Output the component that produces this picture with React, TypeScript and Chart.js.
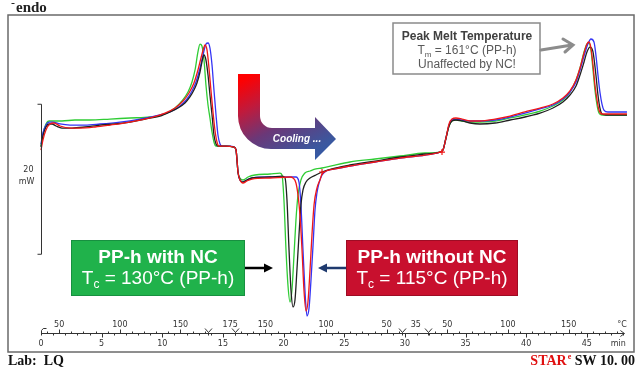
import { useEffect, useRef } from 'react';
import { Chart, registerables } from 'chart.js';
Chart.register(...registerables);

// ---- DSC curves: time (min) vs heat flow (mW, endo up) ----
const timeGreen = [0,0.16,0.41,0.66,1.07,1.73,2.8,4.04,5.69,7.34,8.99,10.22,11.05,11.62,12.12,12.45,12.7,12.94,13.11,13.27,13.44,13.6,13.77,13.93,14.1,14.26,14.43,15.25,15.91,16.08,16.16,16.24,16.41,16.65,17.07,17.64,18.88,19.7,19.87,20.03,20.2,20.36,20.53,20.69,20.86,21.02,21.19,21.43,21.76,22.18,22.67,23.17,24.24,25.47,27.54,29.6,31.66,32.89,33.14,33.39,33.64,33.88,34.21,34.71,35.37,36.19,37.43,38.67,39.9,41.14,42.21,43.03,43.61,44.11,44.44,44.77,45.01,45.18,45.34,45.51,45.67,45.84,46.0,46.25,47.32,48.31];
const hfGreen = [-2.47,-0.87,0.47,0.87,0.87,0.87,1.0,1.0,1.13,1.27,1.4,1.8,2.6,3.53,4.73,6.07,7.67,10.07,11.13,10.87,9.0,5.67,3.0,1.27,-0.6,-1.93,-2.47,-2.47,-2.6,-3.0,-4.33,-5.93,-6.73,-7.0,-6.6,-6.33,-6.2,-6.07,-6.33,-9.67,-16.33,-21.0,-23.27,-21.67,-17.0,-12.33,-9.0,-7.0,-6.07,-5.8,-5.53,-5.4,-5.0,-4.6,-4.2,-3.8,-3.4,-3.27,-3.0,-1.4,0.2,0.87,1.0,0.87,0.73,0.73,0.87,1.27,1.67,2.2,2.87,3.67,4.73,6.33,7.93,10.07,11.13,11.27,10.33,7.67,5.0,3.0,1.93,1.67,1.67,1.67];

const timeBlack = [0,0.16,0.41,0.66,0.91,1.24,1.73,2.56,3.63,4.86,6.1,7.34,8.57,9.81,10.63,11.29,11.87,12.28,12.61,12.86,13.11,13.27,13.44,13.6,13.77,13.93,14.1,14.26,14.43,14.59,15.25,15.91,16.08,16.16,16.24,16.41,16.65,16.98,17.39,18.88,19.87,20.12,20.28,20.45,20.61,20.78,20.94,21.1,21.27,21.43,21.6,21.85,22.18,22.67,23.17,24.24,25.47,27.54,29.6,31.66,32.89,33.14,33.39,33.64,33.88,34.21,34.71,35.37,36.19,37.43,38.67,39.9,41.14,42.21,43.03,43.61,44.11,44.44,44.77,45.01,45.26,45.51,45.75,45.92,46.08,46.25,46.58,47.32,48.31];
const hfBlack = [-2.6,-1.13,0.07,0.47,0.47,0.2,-0.07,-0.07,0.07,0.33,0.47,0.73,1.13,1.53,2.07,2.6,3.27,4.07,5.0,5.93,7.4,8.73,9.67,9.0,7.0,4.33,1.67,-1.0,-2.2,-2.47,-2.47,-2.6,-3.0,-4.33,-5.93,-7.0,-7.27,-7.0,-6.73,-6.6,-6.47,-6.73,-9.67,-16.33,-21.67,-23.93,-23.0,-19.0,-14.33,-10.33,-8.33,-7.27,-6.73,-6.33,-5.93,-5.4,-5.0,-4.47,-3.93,-3.53,-3.27,-3.0,-1.4,0.2,0.87,1.0,0.87,0.6,0.47,0.6,1.0,1.4,1.93,2.6,3.4,4.33,5.53,7.0,8.73,10.07,10.73,10.07,7.0,4.33,2.6,1.8,1.67,1.67,1.67];

const timeRed = [0,0.16,0.41,0.74,1.07,1.57,2.39,3.22,4.45,5.69,7.34,8.99,10.22,11.05,11.71,12.2,12.61,12.94,13.19,13.44,13.52,13.69,13.85,14.01,14.18,14.34,14.51,14.67,15.25,15.91,16.08,16.16,16.24,16.41,16.65,16.98,17.39,18.88,20.53,20.78,21.02,21.19,21.35,21.52,21.68,21.85,22.01,22.18,22.34,22.51,22.75,23.0,23.17,23.5,24.24,25.47,27.54,29.6,31.66,32.89,33.14,33.39,33.64,33.88,34.21,34.71,35.37,36.19,37.43,38.67,39.9,41.14,42.21,43.03,43.61,44.11,44.44,44.77,45.01,45.18,45.34,45.51,45.67,45.84,46.0,46.25,47.32,48.31];
const hfRed = [-3.0,-1.67,-0.33,0.47,0.6,0.2,-0.07,-0.07,0.07,0.33,0.73,1.27,1.93,2.6,3.53,4.6,5.93,7.67,9.27,10.73,11.0,10.33,7.93,5.0,2.07,-0.33,-1.93,-2.47,-2.47,-2.6,-3.0,-4.33,-5.93,-7.0,-7.4,-7.13,-6.87,-6.73,-6.6,-6.73,-7.4,-9.0,-11.67,-16.33,-21.67,-24.47,-23.27,-19.0,-14.33,-10.33,-8.07,-7.0,-6.2,-5.8,-5.53,-5.13,-4.6,-4.07,-3.67,-3.27,-3.0,-1.4,0.47,1.13,1.27,1.13,0.87,0.87,1.13,1.53,2.07,2.6,3.13,3.93,4.87,6.33,7.93,9.93,11.13,11.4,10.6,8.33,5.67,3.67,2.33,1.8,1.8,1.8];

const timeBlue = [0,0.16,0.41,0.66,0.99,1.57,2.39,3.63,4.86,6.51,8.16,9.81,10.8,11.46,12.04,12.45,12.78,13.11,13.36,13.6,13.77,13.93,14.1,14.26,14.43,14.59,14.76,14.92,15.58,15.91,16.08,16.16,16.24,16.41,16.65,16.98,17.39,18.88,20.53,21.02,21.27,21.43,21.6,21.76,21.93,22.1,22.26,22.43,22.59,22.75,22.92,23.17,23.5,24.24,25.47,27.54,29.6,31.66,32.89,33.14,33.39,33.64,33.88,34.21,34.71,35.37,36.19,37.43,38.67,39.9,41.14,42.21,43.03,43.61,44.11,44.44,44.77,45.09,45.34,45.59,45.75,45.92,46.08,46.25,46.41,46.74,47.32,48.31];
const hfBlue = [-2.2,-0.73,0.33,0.73,0.73,0.47,0.33,0.33,0.47,0.73,1.13,1.67,2.2,2.87,3.8,4.87,6.07,7.93,9.67,11.13,11.27,10.6,8.33,5.0,1.67,-1.0,-2.2,-2.47,-2.47,-2.6,-3.0,-4.33,-5.93,-7.0,-7.27,-7.0,-6.73,-6.6,-6.6,-6.6,-7.27,-10.33,-16.33,-21.67,-25.13,-24.07,-20.33,-15.67,-11.0,-8.73,-7.4,-6.33,-5.8,-5.53,-5.13,-4.6,-4.07,-3.67,-3.27,-3.0,-1.4,0.33,1.0,1.13,1.0,0.87,0.87,1.0,1.4,1.93,2.47,3.0,3.8,4.73,6.07,7.67,9.53,11.13,11.8,11.4,9.67,7.0,4.73,3.13,2.33,2.07,2.07,2.07];

// evaluation marks on the red curve
const markTimes = [23.17, 33.06];
const markHF = [-5.93, -3.27];

// ---- axis / program ----
const timeTickLabels = [0, 5, 10, 15, 20, 25, 30, 35, 40, 45];
const programTimes = [0, 14, 16, 30, 32, 48.5];
const programTemps = [35, 175, 175, 35, 35, 200];
const isoLabels = ['175', '35'];
const isoLabelTimes = [15.6, 30.9];
const segmentMarks = [13.8, 16.0, 29.8, 31.9];
const axisEndTime = 48.1;
const scaleBarTop = 3.1;   // mW
const scaleBarSpan = 20;   // mW

const FONT = '"Liberation Sans", Arial, sans-serif';

type Part = { t: string; size: number; bold?: boolean; dy?: number; italic?: boolean };
function drawRich(ctx: CanvasRenderingContext2D, parts: Part[], cx: number, y: number, color: string) {
  const fontOf = (p: Part) => `${p.italic ? 'italic ' : ''}${p.bold ? 'bold ' : ''}${p.size}px ${FONT}`;
  let total = 0;
  const ws = parts.map((p) => { ctx.font = fontOf(p); const w = ctx.measureText(p.t).width; total += w; return w; });
  let x = cx - total / 2;
  ctx.fillStyle = color;
  ctx.textAlign = 'left';
  ctx.textBaseline = 'alphabetic';
  parts.forEach((p, i) => { ctx.font = fontOf(p); ctx.fillText(p.t, x, y + (p.dy || 0)); x += ws[i]; });
}

function arrow(ctx: CanvasRenderingContext2D, x1: number, y1: number, x2: number, y2: number, color: string, lw: number, head: number) {
  const a = Math.atan2(y2 - y1, x2 - x1);
  ctx.strokeStyle = color; ctx.fillStyle = color; ctx.lineWidth = lw;
  ctx.beginPath(); ctx.moveTo(x1, y1); ctx.lineTo(x2 - Math.cos(a) * head * 0.8, y2 - Math.sin(a) * head * 0.8); ctx.stroke();
  ctx.beginPath();
  ctx.moveTo(x2, y2);
  ctx.lineTo(x2 - head * Math.cos(a) + head * 0.5 * Math.sin(a), y2 - head * Math.sin(a) - head * 0.5 * Math.cos(a));
  ctx.lineTo(x2 - head * Math.cos(a) - head * 0.5 * Math.sin(a), y2 - head * Math.sin(a) + head * 0.5 * Math.cos(a));
  ctx.closePath(); ctx.fill();
}

const overlay = {
  id: 'overlay',
  afterDraw(chart: any) {
    const ctx: CanvasRenderingContext2D = chart.ctx;
    const xs = chart.scales.x, ys = chart.scales.y;
    const ca = chart.chartArea;
    const px = (t: number) => xs.getPixelForValue(t);
    ctx.save();

    // frame
    ctx.strokeStyle = '#6a6a6a'; ctx.lineWidth = 1.5;
    ctx.strokeRect(ca.left, ca.top, ca.right - ca.left, ca.bottom - ca.top);

    // endo
    ctx.fillStyle = '#222';
    ctx.font = 'bold 15px "Liberation Serif", serif';
    ctx.textAlign = 'left'; ctx.textBaseline = 'alphabetic';
    ctx.fillText('endo', 16, 12);
    ctx.strokeStyle = '#222'; ctx.lineWidth = 1;
    ctx.beginPath(); ctx.moveTo(11.5, 3.5); ctx.lineTo(14.5, 3.5); ctx.stroke();

    // scale bar
    const bx = Math.round(px(0)) + 0.5;
    const bt = ys.getPixelForValue(scaleBarTop), bb = ys.getPixelForValue(scaleBarTop - scaleBarSpan);
    ctx.strokeStyle = '#333'; ctx.lineWidth = 1;
    ctx.beginPath();
    ctx.moveTo(bx - 4, bt); ctx.lineTo(bx, bt); ctx.lineTo(bx, bb); ctx.lineTo(bx - 4, bb);
    ctx.stroke();
    ctx.fillStyle = '#333'; ctx.font = '8px "DejaVu Sans", sans-serif';
    ctx.textAlign = 'right'; ctx.textBaseline = 'middle';
    const bm = (bt + bb) / 2;
    ctx.fillText(String(scaleBarSpan), bx - 8, bm - 9);
    ctx.fillText('mW', bx - 7, bm + 3);

    // time/temperature axis
    const ay = Math.round(ca.bottom - 19) + 0.5;
    ctx.strokeStyle = '#333'; ctx.lineWidth = 1;
    ctx.beginPath(); ctx.moveTo(px(0), ay); ctx.lineTo(px(axisEndTime), ay); ctx.stroke();
    const ex = px(axisEndTime);
    ctx.beginPath(); ctx.moveTo(ex - 4, ay - 3); ctx.lineTo(ex, ay); ctx.lineTo(ex - 4, ay + 3); ctx.stroke();
    const sx = Math.round(px(0)) + 0.5;
    ctx.beginPath(); ctx.moveTo(sx, ay + 2); ctx.lineTo(sx, ay - 3); ctx.quadraticCurveTo(sx + 1, ay - 6, sx + 5, ay - 5); ctx.stroke();
    for (let t = 1; t <= 48; t++) {
      const x = Math.round(px(t)) + 0.5;
      const len = t % 5 === 0 ? 4 : 2;
      ctx.beginPath(); ctx.moveTo(x, ay); ctx.lineTo(x, ay + len); ctx.stroke();
    }
    ctx.fillStyle = '#333'; ctx.font = '8px "DejaVu Sans", sans-serif';
    ctx.textAlign = 'center'; ctx.textBaseline = 'middle';
    timeTickLabels.forEach((t) => ctx.fillText(String(t), px(t), ay + 10));
    ctx.fillText('min', px(47.6), ay + 10);
    for (let i = 0; i < programTimes.length - 1; i++) {
      const t0 = programTimes[i], t1 = programTimes[i + 1];
      const T0 = programTemps[i], T1 = programTemps[i + 1];
      if (T0 === T1) continue;
      const lo = Math.min(T0, T1), hi = Math.max(T0, T1);
      for (let T = Math.ceil(lo / 10) * 10; T <= hi; T += 10) {
        if (T === lo || T === hi) continue;
        const t = t0 + ((T - T0) / (T1 - T0)) * (t1 - t0);
        if (t > axisEndTime - 0.3) continue;
        const x = Math.round(px(t)) + 0.5;
        const major = T % 50 === 0;
        ctx.beginPath(); ctx.moveTo(x, ay); ctx.lineTo(x, ay - (major ? 4 : 2)); ctx.stroke();
        if (major) ctx.fillText(String(T), px(t), ay - 9);
      }
    }
    isoLabels.forEach((l, i) => ctx.fillText(l, px(isoLabelTimes[i]), ay - 9));
    ctx.fillText('°C', px(47.9), ay - 9);
    segmentMarks.forEach((t) => {
      const x = Math.round(px(t)) + 0.5;
      ctx.beginPath(); ctx.moveTo(x - 3.5, ay - 5); ctx.lineTo(x, ay - 1); ctx.lineTo(x + 3.5, ay - 5);
      ctx.moveTo(x, ay - 1); ctx.lineTo(x, ay + 2); ctx.stroke();
    });

    // Lab / STARe
    ctx.textAlign = 'left'; ctx.textBaseline = 'alphabetic';
    ctx.fillStyle = '#111';
    ctx.font = 'bold 14px "Liberation Serif", serif';
    ctx.fillText('Lab:  LQ', 8, 365);
    const big = 'bold 14px "Liberation Serif", serif';
    ctx.font = big;
    const wStar = ctx.measureText('STAR').width;
    ctx.font = 'bold 8px "Liberation Serif", serif';
    const wE = ctx.measureText('e').width;
    ctx.font = big;
    const wRest = ctx.measureText(' SW 10. 00').width;
    let tx = 635 - (wStar + wE + 1 + wRest);
    ctx.fillStyle = '#e01010';
    ctx.fillText('STAR', tx, 365); tx += wStar + 1;
    ctx.font = 'bold 8px "Liberation Serif", serif';
    ctx.fillText('e', tx, 359); tx += wE;
    ctx.fillStyle = '#111';
    ctx.font = big;
    ctx.fillText(' SW 10. 00', tx, 365);

    // Peak melt box
    ctx.fillStyle = '#ffffff';
    ctx.fillRect(393, 23, 147, 51);
    ctx.strokeStyle = '#8a8a8a'; ctx.lineWidth = 1.5;
    ctx.strokeRect(393, 23, 147, 51);
    drawRich(ctx, [{ t: 'Peak Melt Temperature', size: 12, bold: true }], 467, 40, '#404040');
    drawRich(ctx, [{ t: 'T', size: 12 }, { t: 'm', size: 8, dy: 3 }, { t: ' = 161°C (PP-h)', size: 12 }], 467, 54, '#595959');
    drawRich(ctx, [{ t: 'Unaffected by NC!', size: 12 }], 467, 68, '#595959');
    ctx.strokeStyle = '#8c8c8c'; ctx.lineWidth = 3; ctx.lineCap = 'round';
    ctx.beginPath(); ctx.moveTo(541, 50); ctx.lineTo(572, 45); ctx.stroke();
    ctx.beginPath(); ctx.moveTo(563, 39); ctx.lineTo(573, 45); ctx.lineTo(565, 52); ctx.stroke();
    ctx.lineCap = 'butt';

    // Cooling arrow
    const g = ctx.createLinearGradient(249, 76, 300, 175);
    g.addColorStop(0, '#ff0000');
    g.addColorStop(0.26, '#c01a3c');
    g.addColorStop(0.53, '#6a3878');
    g.addColorStop(0.84, '#3c579e');
    g.addColorStop(1, '#2f5aa8');
    ctx.fillStyle = g;
    ctx.beginPath();
    ctx.moveTo(238, 74); ctx.lineTo(260, 74); ctx.lineTo(260, 116);
    ctx.arc(272, 116, 12, Math.PI, Math.PI / 2, true);
    ctx.lineTo(315, 128); ctx.lineTo(315, 117); ctx.lineTo(336, 139); ctx.lineTo(315, 160); ctx.lineTo(315, 149);
    ctx.lineTo(271, 149);
    ctx.arc(271, 116, 33, Math.PI / 2, Math.PI, false);
    ctx.closePath(); ctx.fill();
    drawRich(ctx, [{ t: 'Cooling ...', size: 10, bold: true, italic: true }], 297, 142, '#ffffff');

    // green box
    ctx.fillStyle = '#20b24b';
    ctx.fillRect(71, 240, 174, 56);
    ctx.strokeStyle = '#179040'; ctx.lineWidth = 1;
    ctx.strokeRect(71.5, 240.5, 173, 55);
    drawRich(ctx, [{ t: 'PP-h with NC', size: 19, bold: true }], 158, 263, '#ffffff');
    drawRich(ctx, [{ t: 'T', size: 19 }, { t: 'c', size: 12, dy: 4 }, { t: ' = 130°C (PP-h)', size: 19 }], 158, 284, '#ffffff');
    arrow(ctx, 245, 268, 273, 268, '#000000', 2.5, 9);

    // red box
    ctx.fillStyle = '#c8102e';
    ctx.fillRect(346, 240, 172, 56);
    ctx.strokeStyle = '#9e0c24'; ctx.lineWidth = 1;
    ctx.strokeRect(346.5, 240.5, 171, 55);
    drawRich(ctx, [{ t: 'PP-h without NC', size: 19, bold: true }], 432, 263, '#ffffff');
    drawRich(ctx, [{ t: 'T', size: 19 }, { t: 'c', size: 12, dy: 4 }, { t: ' = 115°C (PP-h)', size: 19 }], 432, 284, '#ffffff');
    arrow(ctx, 346, 268, 318, 268, '#1f3a6e', 2.5, 9);

    ctx.restore();
  },
};

function series(ts: number[], vs: number[]) {
  return ts.map((t, i) => ({ x: t, y: vs[i] }));
}

export default function App() {
  const ref = useRef<HTMLCanvasElement | null>(null);
  useEffect(() => {
    if (!ref.current) return;
    const common = { showLine: true, pointRadius: 0, borderWidth: 1.3, cubicInterpolationMode: 'monotone' as const, fill: false };
    const chart = new Chart(ref.current, {
      type: 'scatter',
      data: {
        datasets: [
          { ...common, label: 'red', data: series(timeRed, hfRed), borderColor: '#f01818', order: 1 },
          { ...common, label: 'black', data: series(timeBlack, hfBlack), borderColor: '#202020', order: 2 },
          { ...common, label: 'blue', data: series(timeBlue, hfBlue), borderColor: '#3434f5', order: 3 },
          { ...common, label: 'green', data: series(timeGreen, hfGreen), borderColor: '#2fcc34', order: 4 },
          { label: 'marks', data: series(markTimes, markHF), showLine: false, pointStyle: 'cross', pointRadius: 3, borderColor: '#f01818', borderWidth: 1.2, order: 0 } as any,
        ],
      },
      options: {
        responsive: false,
        animation: false,
        layout: { padding: { left: 8, top: 15, right: 7, bottom: 16 } },
        scales: {
          x: { type: 'linear', min: -2.72, max: 48.89, display: false },
          y: { type: 'linear', min: -29.93, max: 15, display: false },
        },
        plugins: { legend: { display: false }, tooltip: { enabled: false } },
      },
      plugins: [overlay],
    });
    return () => chart.destroy();
  }, []);
  return (
    <div style={{ position: 'absolute', left: 0, top: 0, width: 641, height: 368, background: '#fff' }}>
      <canvas ref={ref} width={641} height={368} />
    </div>
  );
}
